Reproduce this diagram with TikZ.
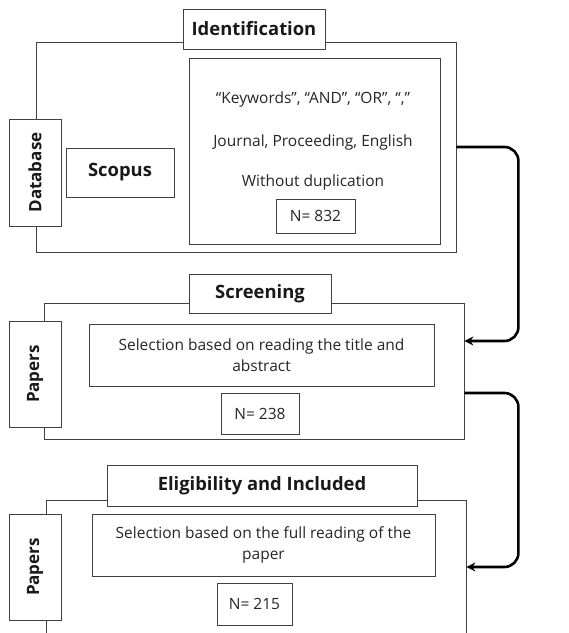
\documentclass[tikz,border=0pt]{standalone}
\usepackage{fontspec}
\setmainfont{Open Sans}
\usetikzlibrary{arrows.meta}
\begin{document}
\begin{tikzpicture}[x=1pt,y=-1pt,
  box/.style={draw=black!75, line width=0.8pt, fill=white, inner sep=0pt},
  ttl/.style={box, font=\bfseries\fontsize{18.4}{22}\selectfont, text=black!90},
  side/.style={box, font=\bfseries\fontsize{17}{20}\selectfont, rotate=90, text=black!90},
  sub/.style={box, font=\bfseries\fontsize{18.4}{22}\selectfont, text=black!90},
  txt/.style={font=\fontsize{15.5}{21}\selectfont, align=center, inner sep=0pt, text=black!85},
  nbox/.style={box, font=\fontsize{15.5}{18}\selectfont, text=black!85},
  flow/.style={line width=2.6pt, rounded corners=14pt, -{Stealth[length=9pt,width=9pt]}}]
\clip (0,0) rectangle (569,633);
\fill[white] (0,0) rectangle (569,633);
% Identification
\node[box, minimum width=420pt, minimum height=210pt] (box1) at (246,147) {};
\node[ttl, minimum width=142pt, minimum height=40pt] (t1) at (254,29) {Identification};
\node[side, minimum width=107pt, minimum height=52pt] (db) at (35,172.5) {Database};
\node[sub, minimum width=108pt, minimum height=49pt] (scopus) at (120,172.5) {Scopus};
\node[box, minimum width=251pt, minimum height=186pt] (crit) at (314.5,151) {};
\node[txt] (k1) at (313,99) {“Keywords”, “AND”, “OR”, “,”};
\node[txt] (k2) at (313,142) {Journal, Proceeding, English};
\node[txt] (k3) at (313,182) {Without duplication};
\node[nbox, minimum width=79pt, minimum height=34pt] (n1) at (315.5,216) {N= 832};
% Screening
\node[box, minimum width=420pt, minimum height=136pt] (box2) at (254,371) {};
\node[ttl, minimum width=142pt, minimum height=39pt] (t2) at (260,293.5) {Screening};
\node[side, minimum width=106pt, minimum height=52pt] (pap1) at (35,374) {Papers};
\node[box, minimum width=345pt, minimum height=62pt] (sel1) at (261.5,355) {};
\node[txt] (s1) at (sel1) {Selection based on reading the title and\\abstract};
\node[nbox, minimum width=78pt, minimum height=41pt] (n2) at (260,413.5) {N= 238};
% Eligibility
\node[box, minimum width=420pt, minimum height=180pt] (box3) at (256,590) {};
\node[ttl, minimum width=310pt, minimum height=41pt] (t3) at (262,485.5) {Eligibility and Included};
\node[side, minimum width=106pt, minimum height=52pt] (pap2) at (35,567) {Papers};
\node[box, minimum width=343pt, minimum height=62pt] (sel2) at (263.5,545) {};
\node[txt] (s2) at (sel2) {Selection based on the full reading of the\\paper};
\node[nbox, minimum width=75pt, minimum height=42pt] (n3) at (254.5,604) {N= 215};
% connectors
\draw[flow] (box1.east) -- ++(62,0) |- ([yshift=30pt]box2.east);
\draw[flow] ([yshift=-22pt]box2.east) -- ++(54,0) |- ([yshift=23pt]box3.east);
\end{tikzpicture}
\end{document}
